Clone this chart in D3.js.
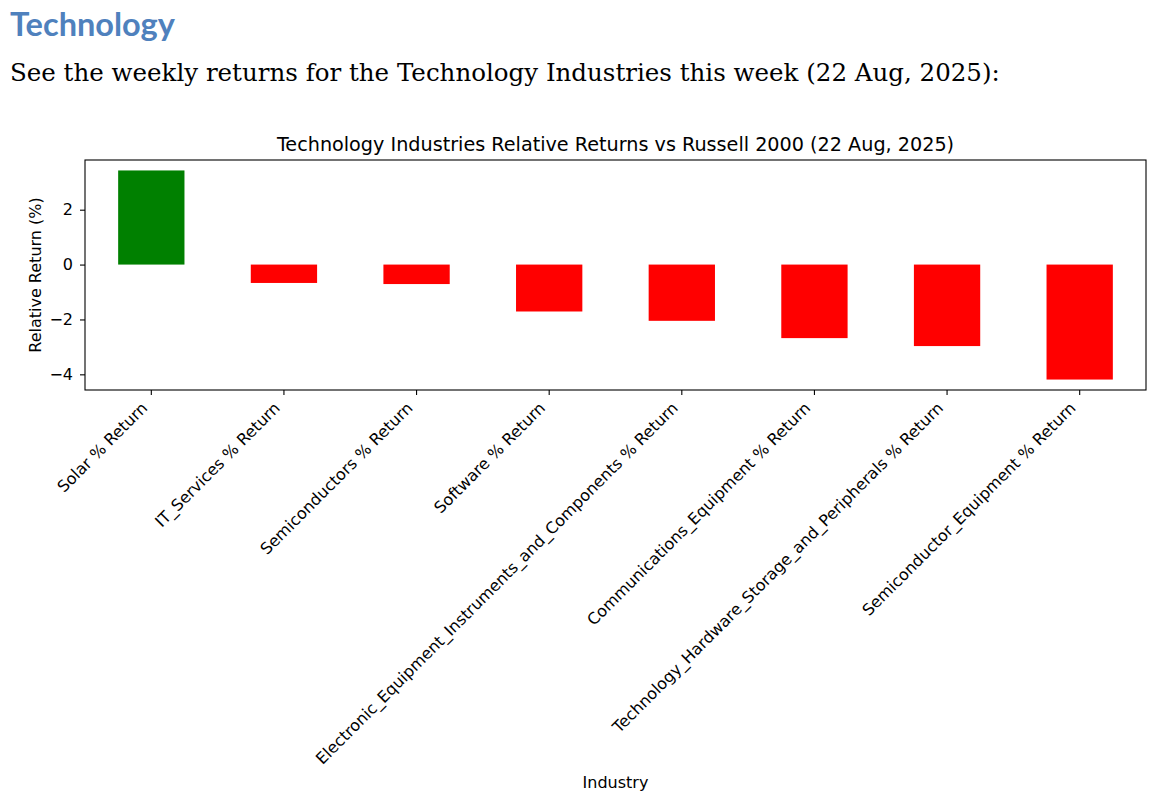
<!DOCTYPE html>
<html>
<head>
<meta charset="utf-8">
<script src="https://cdn.jsdelivr.net/npm/d3@7"></script>
<style>
  body { margin: 0; background: #fff; }
</style>
</head>
<body>
<div id="chart"></div>
<script>
// DATA
const industries = [
    "Solar % Return",
    "IT_Services % Return",
    "Semiconductors % Return",
    "Software % Return",
    "Electronic_Equipment_Instruments_and_Components % Return",
    "Communications_Equipment % Return",
    "Technology_Hardware_Storage_and_Peripherals % Return",
    "Semiconductor_Equipment % Return"
]
const relReturns = [3.43, -0.67, -0.71, -1.71, -2.05, -2.68, -2.97, -4.19]
const yTicks = [-4, -2, 0, 2]

const heading = "Technology"
const intro = "See the weekly returns for the Technology Industries this week (22 Aug, 2025):"
const chartTitle = "Technology Industries Relative Returns vs Russell 2000 (22 Aug, 2025)"

// SETTINGS
const settings = {
    width: 1154,
    height: 802,
    left: 85,
    right: 1146,
    top: 160,
    bottom: 390,
    tick: 5,
    font: "'DejaVu Sans', sans-serif",
    fontSize: 16,
    titleSize: 19.2
}

const data = industries.map((name, i) => ({name: name, value: relReturns[i]}))

const svg = d3.select("#chart").append("svg")
    .attr("width", settings.width)
    .attr("height", settings.height)
    .attr("viewBox", [0, 0, settings.width, settings.height])

// fit a text to a given width by scaling its font size
function fitText(sel, targetWidth) {
    const w = sel.node().getComputedTextLength()
    const fs = parseFloat(sel.attr("font-size"))
    sel.attr("font-size", fs * targetWidth / w)
}

// page heading + intro line
const h = svg.append("text")
    .attr("x", 10).attr("y", 36)
    .attr("font-family", "Lato, 'Open Sans', sans-serif")
    .attr("font-weight", "bold")
    .attr("font-size", 30)
    .attr("fill", "#4f81bd")
    .text(heading)
fitText(h, 165)

const p = svg.append("text")
    .attr("x", 10).attr("y", 81)
    .attr("font-family", "'DejaVu Serif', serif")
    .attr("font-size", 26)
    .attr("fill", "#000")
    .text(intro)
fitText(p, 990)

// SCALES
const x = d3.scaleBand()
    .domain(industries)
    .range([settings.left, settings.right])
    .paddingInner(0.5)
    .paddingOuter(0.25)

const ext = d3.extent(relReturns)
const pad = (ext[1] - ext[0]) * 0.05
const y = d3.scaleLinear()
    .domain([ext[0] - pad, ext[1] + pad])
    .range([settings.bottom, settings.top])

// BARS
svg.append("g")
    .selectAll("rect")
    .data(data)
    .join("rect")
    .attr("x", d => x(d.name))
    .attr("width", x.bandwidth())
    .attr("y", d => y(Math.max(0, d.value)))
    .attr("height", d => Math.abs(y(d.value) - y(0)))
    .attr("fill", d => d.value >= 0 ? "green" : "red")

// AXES
const fmt = d => d < 0 ? "\u2212" + Math.abs(d) : String(d)

const yAxis = svg.append("g")
    .attr("transform", `translate(${settings.left},0)`)
    .call(d3.axisLeft(y).tickValues(yTicks).tickFormat(fmt).tickSize(settings.tick).tickPadding(7))
yAxis.select(".domain").remove()
yAxis.selectAll("line").attr("stroke", "#000").attr("stroke-width", 1.1)
yAxis.selectAll("text")
    .attr("font-family", settings.font)
    .attr("font-size", settings.fontSize)
    .attr("fill", "#000")

const xAxis = svg.append("g")
    .attr("transform", `translate(0,${settings.bottom})`)
    .call(d3.axisBottom(x).tickSize(settings.tick).tickFormat(""))
xAxis.select(".domain").remove()
xAxis.selectAll("line").attr("stroke", "#000").attr("stroke-width", 1.1)

// rotated category labels
svg.append("g")
    .selectAll("text")
    .data(industries)
    .join("text")
    .attr("transform", d => `translate(${x(d) + x.bandwidth() / 2 - 3},${settings.bottom + 19}) rotate(-45)`)
    .attr("text-anchor", "end")
    .attr("font-family", settings.font)
    .attr("font-size", settings.fontSize)
    .attr("fill", "#000")
    .text(d => d)

// frame
svg.append("rect")
    .attr("x", settings.left)
    .attr("y", settings.top)
    .attr("width", settings.right - settings.left)
    .attr("height", settings.bottom - settings.top)
    .attr("fill", "none")
    .attr("stroke", "#000")
    .attr("stroke-width", 1.1)

// titles
svg.append("text")
    .attr("x", (settings.left + settings.right) / 2)
    .attr("y", 151)
    .attr("text-anchor", "middle")
    .attr("font-family", settings.font)
    .attr("font-size", settings.titleSize)
    .attr("fill", "#000")
    .text(chartTitle)

svg.append("text")
    .attr("transform", `translate(41,${(settings.top + settings.bottom) / 2}) rotate(-90)`)
    .attr("text-anchor", "middle")
    .attr("font-family", settings.font)
    .attr("font-size", settings.fontSize)
    .attr("fill", "#000")
    .text("Relative Return (%)")

svg.append("text")
    .attr("x", (settings.left + settings.right) / 2)
    .attr("y", 788)
    .attr("text-anchor", "middle")
    .attr("font-family", settings.font)
    .attr("font-size", settings.fontSize)
    .attr("fill", "#000")
    .text("Industry")
</script>
</body>
</html>
